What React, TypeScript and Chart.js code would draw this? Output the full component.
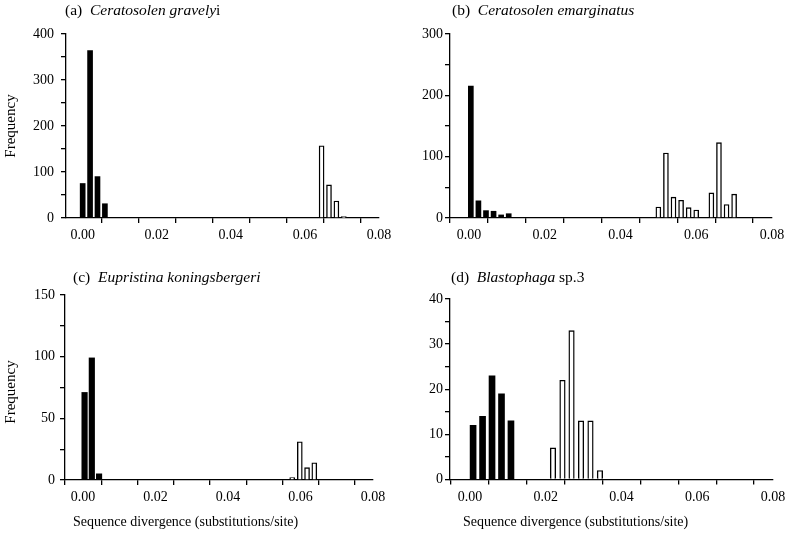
import React, { useEffect, useRef } from 'react';
import { Chart, registerables } from 'chart.js';
Chart.register(...registerables);

// ---------- data ----------
const X_TICKS = [0, 0.01, 0.02, 0.03, 0.04, 0.05, 0.06, 0.07, 0.08];
const X_LABELS = ['0.00', '', '0.02', '', '0.04', '', '0.06', '', '0.08'];

// (a) Ceratosolen gravelyi
const A_SOLID_X = [0.0, 0.002, 0.004, 0.006];
const A_SOLID_Y = [75, 364, 90, 31];
const A_OPEN_X = [0.0645, 0.0665, 0.0685, 0.0705];
const A_OPEN_Y = [157, 72, 37, 3];
const A_Y_TICKS = [0, 50, 100, 150, 200, 250, 300, 350, 400];
const A_Y_LABELS = ['0', '', '100', '', '200', '', '300', '', '400'];

// (b) Ceratosolen emarginatus
const B_SOLID_X = [0.0005, 0.0025, 0.0045, 0.0065, 0.0085, 0.0105];
const B_SOLID_Y = [215, 28, 12, 11, 5, 7];
const B_OPEN_X = [0.05, 0.052, 0.054, 0.056, 0.058, 0.06, 0.064, 0.066, 0.068, 0.07];
const B_OPEN_Y = [18, 106, 34, 29, 17, 13, 41, 123, 22, 39];
const B_Y_TICKS = [0, 50, 100, 150, 200, 250, 300];
const B_Y_LABELS = ['0', '', '100', '', '200', '', '300'];

// (c) Eupristina koningsbergeri
const C_SOLID_X = [0.0004, 0.0024, 0.0044];
const C_SOLID_Y = [71, 99, 5];
const C_OPEN_X = [0.0577, 0.0598, 0.0618, 0.0638];
const C_OPEN_Y = [2, 31, 10, 14];
const C_Y_TICKS = [0, 25, 50, 75, 100, 125, 150];
const C_Y_LABELS = ['0', '', '50', '', '100', '', '150'];

// (d) Blastophaga sp.3
const D_SOLID_X = [0.0008, 0.0033, 0.0058, 0.0083, 0.0108];
const D_SOLID_Y = [12, 14, 23, 19, 13];
const D_OPEN_X = [0.0219, 0.0244, 0.0268, 0.0293, 0.0318, 0.0343];
const D_OPEN_Y = [7, 22, 33, 13, 13, 2];
const D_Y_TICKS = [0, 5, 10, 15, 20, 25, 30, 35, 40];
const D_Y_LABELS = ['0', '', '10', '', '20', '', '30', '', '40'];

const X_TITLE = 'Sequence divergence (substitutions/site)';
const Y_TITLE = 'Frequency';

const FONT = '"Liberation Serif", "Times New Roman", serif';

type Panel = {
  solidX: number[]; solidY: number[]; openX: number[]; openY: number[];
  yTicks: number[]; yLabels: string[];
  cx: number; cy: number; cw: number; ch: number;
  left: number; right: number; top: number; bottom: number;
  xMin: number; bw: number; bwOpen: number; yPad: number;
};

const PANELS: Panel[] = [
  { solidX: A_SOLID_X, solidY: A_SOLID_Y, openX: A_OPEN_X, openY: A_OPEN_Y, yTicks: A_Y_TICKS, yLabels: A_Y_LABELS,
    cx: 0, cy: 14, cw: 395, ch: 240, left: 66, right: 379, top: 34, bottom: 218, xMin: -0.0045, bw: 5, bwOpen: 5, yPad: 7 },
  { solidX: B_SOLID_X, solidY: B_SOLID_Y, openX: B_OPEN_X, openY: B_OPEN_Y, yTicks: B_Y_TICKS, yLabels: B_Y_LABELS,
    cx: 395, cy: 14, cw: 392, ch: 240, left: 450, right: 772, top: 34, bottom: 218, xMin: -0.005, bw: 5, bwOpen: 5, yPad: 2 },
  { solidX: C_SOLID_X, solidY: C_SOLID_Y, openX: C_OPEN_X, openY: C_OPEN_Y, yTicks: C_Y_TICKS, yLabels: C_Y_LABELS,
    cx: 0, cy: 283, cw: 395, ch: 235, left: 65, right: 373, top: 295, bottom: 480, xMin: -0.005, bw: 5.5, bwOpen: 5, yPad: 5 },
  { solidX: D_SOLID_X, solidY: D_SOLID_Y, openX: D_OPEN_X, openY: D_OPEN_Y, yTicks: D_Y_TICKS, yLabels: D_Y_LABELS,
    cx: 395, cy: 283, cw: 392, ch: 235, left: 450, right: 773, top: 299, bottom: 479.5, xMin: -0.0053, bw: 6, bwOpen: 5.5, yPad: 2 },
];

function PanelChart({ p }: { p: Panel }) {
  const ref = useRef<HTMLCanvasElement>(null);
  useEffect(() => {
    if (!ref.current) return;
    const yMax = p.yTicks[p.yTicks.length - 1];
    const chart = new Chart(ref.current, {
      type: 'bar',
      data: {
        datasets: [
          {
            data: p.solidX.map((x, i) => ({ x, y: p.solidY[i] })),
            backgroundColor: '#000', borderColor: '#000', borderWidth: 0,
            barThickness: p.bw, grouped: false,
          } as any,
          {
            data: p.openX.map((x, i) => ({ x, y: p.openY[i] })),
            backgroundColor: '#fff', borderColor: '#000', borderWidth: 1.4,
            barThickness: p.bwOpen, grouped: false, borderSkipped: 'start',
          } as any,
        ],
      },
      options: {
        animation: false,
        responsive: false,
        maintainAspectRatio: false,
        events: [],
        plugins: { legend: { display: false }, tooltip: { enabled: false }, title: { display: false } },
        layout: { padding: { left: 0, top: p.top - p.cy, right: p.cx + p.cw - p.right, bottom: 0 } },
        scales: {
          x: {
            type: 'linear', min: p.xMin, max: 0.08, offset: false,
            grid: { drawOnChartArea: false, drawTicks: true, tickLength: 5, color: '#000', lineWidth: 1.3 },
            border: { display: true, color: '#000', width: 1.3 },
            ticks: {
              autoSkip: false, maxRotation: 0, minRotation: 0, padding: 4, color: '#000',
              font: { family: FONT, size: 14 },
              callback: (_v: any, i: number) => X_LABELS[i],
            },
            afterBuildTicks: (s: any) => { s.ticks = X_TICKS.map((v) => ({ value: v })); },
            afterFit: (s: any) => { s.height = p.cy + p.ch - p.bottom; s.paddingLeft = 0; s.paddingRight = 0; },
          },
          y: {
            type: 'linear', min: 0, max: yMax,
            grid: { drawOnChartArea: false, drawTicks: true, tickLength: 5, color: '#000', lineWidth: 1.3 },
            border: { display: true, color: '#000', width: 1.3 },
            ticks: {
              autoSkip: false, padding: p.yPad, color: '#000',
              font: { family: FONT, size: 14 },
              callback: (_v: any, i: number) => p.yLabels[i],
            },
            afterBuildTicks: (s: any) => { s.ticks = p.yTicks.map((v) => ({ value: v })); },
            afterFit: (s: any) => { s.width = p.left - p.cx; s.paddingTop = 0; s.paddingBottom = 0; },
          },
        },
      } as any,
    });
    return () => chart.destroy();
  }, [p]);
  return (
    <canvas
      ref={ref}
      width={p.cw}
      height={p.ch}
      style={{ position: 'absolute', left: p.cx, top: p.cy, width: p.cw, height: p.ch }}
    />
  );
}

const textBase: React.CSSProperties = {
  position: 'absolute', fontFamily: FONT, color: '#000', whiteSpace: 'pre', lineHeight: '16px',
};

export default function App() {
  return (
    <div style={{ position: 'fixed', left: 0, top: 0, width: 787, height: 550, background: '#fff', overflow: 'hidden' }}>
      {PANELS.map((p, i) => <PanelChart key={i} p={p} />)}
      <div style={{ ...textBase, left: 65, top: 2, fontSize: 15.5 }}>
        {'(a)  '}<i>Ceratosolen gravely</i>{'i'}
      </div>
      <div style={{ ...textBase, left: 452, top: 2, fontSize: 15.5 }}>
        {'(b)  '}<i>Ceratosolen emarginatus</i>
      </div>
      <div style={{ ...textBase, left: 73, top: 269, fontSize: 15.5 }}>
        {'(c)  '}<i>Eupristina koningsbergeri</i>
      </div>
      <div style={{ ...textBase, left: 451, top: 269, fontSize: 15.5 }}>
        {'(d)  '}<i>Blastophaga</i>{' sp.3'}
      </div>
      <div style={{ ...textBase, left: 10, top: 126, fontSize: 15, transform: 'translate(-50%, -50%) rotate(-90deg)' }}>
        {Y_TITLE}
      </div>
      <div style={{ ...textBase, left: 10, top: 392, fontSize: 15, transform: 'translate(-50%, -50%) rotate(-90deg)' }}>
        {Y_TITLE}
      </div>
      <div style={{ ...textBase, left: 73, top: 514, fontSize: 14 }}>{X_TITLE}</div>
      <div style={{ ...textBase, left: 463, top: 514, fontSize: 14 }}>{X_TITLE}</div>
    </div>
  );
}
